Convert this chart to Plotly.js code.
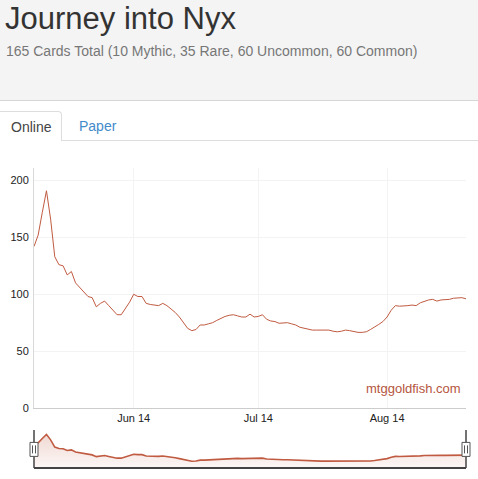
<!DOCTYPE html>
<html>
<head>
<meta charset="utf-8">
<script src="https://cdn.plot.ly/plotly-3.0.1.min.js"></script>
<style>
  html, body { margin:0; padding:0; width:478px; height:479px; overflow:hidden; background:#fff; font-family:"Liberation Sans", Arial, sans-serif; }
  #header { position:absolute; left:0; top:0; width:478px; height:100px; background:#f4f4f4; border-bottom:1px solid #d6d6d6; }
  #title { position:absolute; left:5px; top:0px; font-size:31px; color:#333; line-height:38px; }
  #sub { position:absolute; left:6px; top:42px; font-size:14px; color:#777; line-height:18px; }
  #navline { position:absolute; left:0; top:140px; width:478px; height:1px; background:#ddd; }
  #tab { position:absolute; left:-1px; top:111px; width:63px; height:30px; background:#fff; border:1px solid #ddd; border-bottom:none; border-radius:0 4px 0 0; box-sizing:border-box; }
  #tab span { position:absolute; left:11px; top:6px; font-size:14px; color:#444; line-height:18px; }
  #paper { position:absolute; left:79px; top:117px; font-size:14px; color:#428bca; line-height:18px; }
  #chart { position:absolute; left:0; top:141px; width:478px; height:338px; }
</style>
</head>
<body>
<div id="header">
  <div id="title">Journey into Nyx</div>
  <div id="sub">165 Cards Total (10 Mythic, 35 Rare, 60 Uncommon, 60 Common)</div>
</div>
<div id="navline"></div>
<div id="tab"><span>Online</span></div>
<div id="paper">Paper</div>
<div id="chart"></div>
<script>
// Daily prices, starting 2014-05-08
const startDate = '2014-05-08';
const prices = [
  142, 152, 172, 191, 166, 133, 126, 125, 117, 120,
  110, 106, 102, 98, 97, 89, 92, 94, 90, 86,
  82, 82, 87, 93, 100, 98, 98, 92, 91, 90.5,
  90, 92, 90, 87, 84, 80, 75, 70, 68, 69,
  73, 73, 74, 75, 77, 79, 80.5, 81.5, 82, 81,
  80, 80, 82.5, 80, 80.5, 82, 78, 76.5, 76, 74.5,
  75, 75, 74, 73, 71, 70, 69, 68.5, 68.5, 68.5,
  68.5, 68.5, 67.5, 67, 67.5, 68.5, 68, 67, 66.5, 66.5,
  67, 69, 71, 73.5, 76, 80, 86, 90, 89.5, 89.5,
  90, 90.5, 90, 92.5, 94, 95, 95.5, 94, 95, 95,
  95.5, 96.5, 97, 97, 96
];
const yTicks = [0, 50, 100, 150, 200];
const watermark = 'mtggoldfish.com';

// build dates from start date (one per day)
const dates = prices.map((_, i) => {
  const d = new Date(startDate + 'T00:00:00Z');
  d.setUTCDate(d.getUTCDate() + i);
  return d.toISOString().slice(0, 10);
});
const xRange = [dates[0], dates[dates.length - 1]];
const lineColor = '#c05a40';

const traces = [
  { x: dates, y: prices, type: 'scatter', mode: 'lines', xaxis: 'x', yaxis: 'y',
    line: { color: lineColor, width: 1 }, hoverinfo: 'x+y' },
  { x: dates, y: prices, type: 'scatter', mode: 'lines', xaxis: 'x2', yaxis: 'y2',
    line: { color: lineColor, width: 1.6 }, fill: 'tozeroy',
    fillcolor: 'rgba(192,90,64,0.12)',
    fillgradient: { type: 'vertical', start: 37, stop: 211,
      colorscale: [[0, 'rgba(192,90,64,0.05)'], [1, 'rgba(192,90,64,0.25)']] },
    hoverinfo: 'skip' }
];

const handle = (ax) => ([
  { type: 'rect', xref: 'paper', yref: 'paper', xsizemode: 'pixel', ysizemode: 'pixel',
    xanchor: ax, yanchor: 0.062, x0: -4, x1: 4, y0: -7, y1: 7,
    fillcolor: '#ffffff', line: { color: '#555', width: 1 }, layer: 'above' },
  { type: 'line', xref: 'paper', yref: 'paper', xsizemode: 'pixel', ysizemode: 'pixel',
    xanchor: ax, yanchor: 0.062, x0: -1.5, x1: -1.5, y0: -4, y1: 4,
    line: { color: '#555', width: 1 }, layer: 'above' },
  { type: 'line', xref: 'paper', yref: 'paper', xsizemode: 'pixel', ysizemode: 'pixel',
    xanchor: ax, yanchor: 0.062, x0: 1.5, x1: 1.5, y0: -4, y1: 4,
    line: { color: '#555', width: 1 }, layer: 'above' }
]);

const layout = {
  width: 478, height: 338,
  margin: { l: 34, r: 12, t: 27, b: 11 },
  paper_bgcolor: '#ffffff', plot_bgcolor: 'rgba(0,0,0,0)',
  showlegend: false,
  font: { family: '"Liberation Sans", Arial, sans-serif', size: 11, color: '#333' },
  xaxis: {
    domain: [0, 1], anchor: 'y', type: 'date', range: xRange,
    tickformat: '%b %y', dtick: 'M1', tick0: '2014-05-01',
    showgrid: true, gridcolor: '#f3f3f3', gridwidth: 1,
    showline: true, linecolor: '#cccccc', linewidth: 1,
    ticks: '', zeroline: false, fixedrange: true,
    tickfont: { size: 11, color: '#222' }
  },
  yaxis: {
    domain: [0.2, 1], anchor: 'x', range: [0, 211],
    tickvals: yTicks, ticktext: yTicks.map(String),
    showgrid: true, gridcolor: '#f3f3f3', gridwidth: 1,
    showline: true, linecolor: '#d8d8d8', linewidth: 1,
    ticks: '', zeroline: false, fixedrange: true, ticklabelstandoff: 2,
    tickfont: { size: 11, color: '#222' }
  },
  xaxis2: {
    domain: [0, 1], anchor: 'y2', type: 'date', range: xRange,
    showgrid: false, showticklabels: false, showline: false, zeroline: false, ticks: '', fixedrange: true
  },
  yaxis2: {
    domain: [0, 0.1267], anchor: 'x2', range: [37, 211],
    showgrid: false, showticklabels: false, showline: false, zeroline: false, ticks: '', fixedrange: true
  },
  annotations: [
    { text: watermark, xref: 'paper', yref: 'y', x: 0.993, y: 17, xanchor: 'right', yanchor: 'middle',
      showarrow: false, font: { size: 13, color: '#b5553d', family: '"Liberation Sans", Arial, sans-serif' } }
  ],
  shapes: [
    { type: 'line', xref: 'paper', yref: 'paper', x0: 0, x1: 1, y0: 0, y1: 0,
      line: { color: '#444', width: 2 }, layer: 'above' },
    { type: 'line', xref: 'paper', yref: 'paper', x0: 0, x1: 0, y0: 0, y1: 0.1267,
      line: { color: '#444', width: 1.5 }, layer: 'above' },
    { type: 'line', xref: 'paper', yref: 'paper', x0: 1, x1: 1, y0: 0, y1: 0.1267,
      line: { color: '#444', width: 1.5 }, layer: 'above' },
    ...handle(0), ...handle(1)
  ]
};

Plotly.newPlot('chart', traces, layout, { displayModeBar: false, staticPlot: false });
</script>
</body>
</html>
